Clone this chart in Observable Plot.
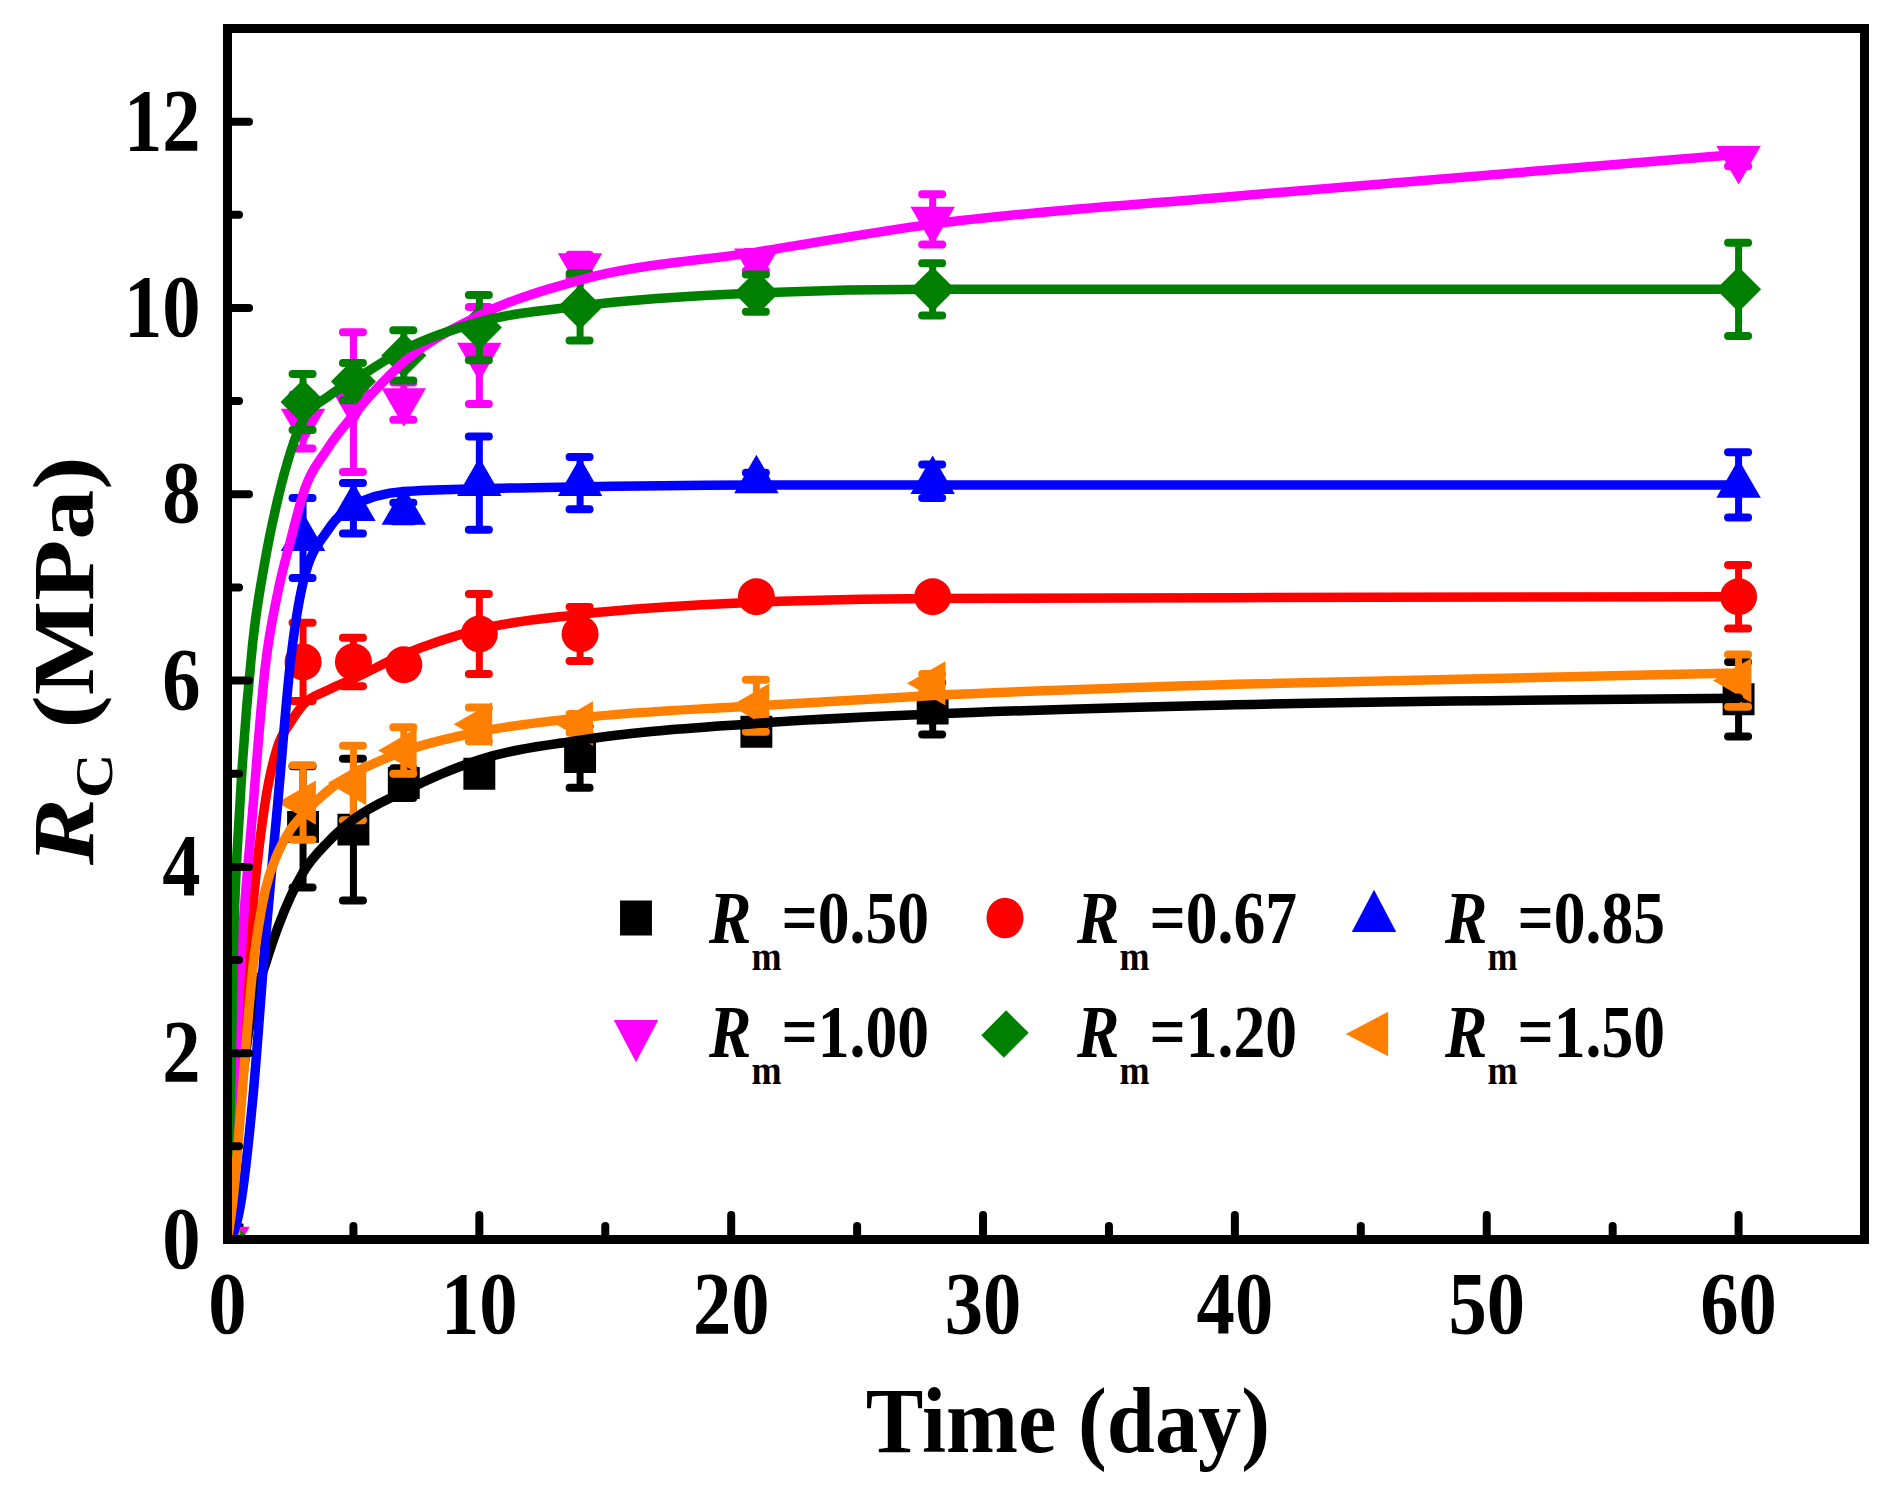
<!DOCTYPE html>
<html>
<head>
<meta charset="utf-8">
<script src="https://cdn.jsdelivr.net/npm/d3@7"></script>
<script src="https://cdn.jsdelivr.net/npm/@observablehq/plot@0.6"></script>
<style>
  body { margin: 0; background: #fff; }
  #chart { width: 1892px; height: 1500px; }
</style>
</head>
<body>
<div id="chart"></div>
<script>
// curing time (day) of the measured points
const days = [0, 3, 5, 7, 10, 14, 21, 28, 60];

// compressive strength R_C (MPa) and error bars, one pair per Rm
const rm050 = [0, 4.43, 4.40, 4.90, 5.00, 5.18, 5.45, 5.70, 5.80];
const rm050Err = [0, 0.65, 0.76, 0.16, 0.10, 0.33, 0.10, 0.28, 0.40];
const rm067 = [0, 6.20, 6.20, 6.17, 6.50, 6.50, 6.90, 6.90, 6.90];
const rm067Err = [0, 0.42, 0.26, 0.10, 0.43, 0.29, 0.10, 0.10, 0.34];
const rm085 = [0, 7.53, 7.85, 7.81, 8.12, 8.12, 8.15, 8.14, 8.10];
const rm085Err = [0, 0.43, 0.27, 0.10, 0.50, 0.28, 0.08, 0.18, 0.35];
const rm100 = [0, 8.78, 8.99, 9.00, 9.49, 10.45, 10.50, 10.95, 11.60];
const rm100Err = [0, 0.29, 0.75, 0.20, 0.52, 0.12, 0.10, 0.27, 0.08];
const rm120 = [0, 8.99, 9.21, 9.49, 9.79, 10.01, 10.16, 10.20, 10.20];
const rm120Err = [0, 0.30, 0.20, 0.27, 0.35, 0.36, 0.20, 0.28, 0.50];
const rm150 = [0, 4.69, 4.90, 5.25, 5.53, 5.54, 5.73, 5.97, 6.00];
const rm150Err = [0, 0.40, 0.40, 0.25, 0.18, 0.10, 0.28, 0.10, 0.28];

// fitted curves at these days
const fitDays = [0, 0.25, 0.5, 1, 1.5, 2, 2.5, 3, 4, 5, 7, 10, 14, 21, 28, 40, 60];
const fit050 = [0, 0.85, 1.5, 2.5, 2.95, 3.35, 3.68, 3.94, 4.27, 4.51, 4.81, 5.15, 5.36, 5.54, 5.64, 5.74, 5.81];
const fit067 = [0, 0.8, 1.7, 3.55, 4.7, 5.3, 5.55, 5.74, 5.9, 6.02, 6.28, 6.55, 6.71, 6.84, 6.88, 6.89, 6.9];
const fit085 = [0, 0.08, 0.35, 1.5, 3.2, 4.7, 6.2, 7.05, 7.62, 7.88, 8.03, 8.06, 8.08, 8.1, 8.1, 8.1, 8.1];
const fit100 = [0, 1.45, 2.85, 4.6, 6.15, 6.95, 7.5, 8.0, 8.5, 8.85, 9.42, 9.92, 10.3, 10.6, 10.9, 11.2, 11.65];
const fit120 = [0, 3.3, 4.7, 6.4, 7.3, 7.95, 8.45, 8.8, 9.05, 9.22, 9.55, 9.85, 10.02, 10.16, 10.2, 10.2, 10.2];
const fit150 = [0, 0.5, 1.3, 2.9, 3.75, 4.15, 4.4, 4.56, 4.82, 5.0, 5.24, 5.45, 5.6, 5.73, 5.84, 5.96, 6.08];

const rmLabels = ["0.50", "0.67", "0.85", "1.00", "1.20", "1.50"];
const xMajor = [0, 10, 20, 30, 40, 50, 60];
const xMinor = [5, 15, 25, 35, 45, 55];
const yMajor = [0, 2, 4, 6, 8, 10, 12];
const yMinor = [1, 3, 5, 7, 9, 11];

// styles
const colors = ["#000000", "#ff0000", "#0000ff", "#ff00ff", "#008000", "#ff8000"];
const symbols = ["square", "circle", "triangle", "triangle", "square", "triangle"];
const rotations = [0, 0, 0, 180, 45, -90];
const radii = [18, 18.5, 16.5, 16.5, 18, 16.5];
const d3Symbols = { square: d3.symbolSquare, circle: d3.symbolCircle, triangle: d3.symbolTriangle };

const W = 1892, H = 1500;
const M = { top: 28, right: 28, bottom: 261, left: 227 };
const plotW = W - M.left - M.right;
const plotH = H - M.top - M.bottom;
const serif = "'Liberation Serif', 'Times New Roman', serif";

const values = [rm050, rm067, rm085, rm100, rm120, rm150];
const errors = [rm050Err, rm067Err, rm085Err, rm100Err, rm120Err, rm150Err];
const fits = [fit050, fit067, fit085, fit100, fit120, fit150];

const pointMarks = [];
const fitMarks = [];
rmLabels.forEach((label, i) => {
  const rows = days.map((t, j) => ({ t, v: values[i][j], e: errors[i][j] }));
  const withErr = rows.filter((d) => d.e > 0);
  const color = colors[i];
  pointMarks.push(
    Plot.ruleX(withErr, { x: "t", y1: (d) => d.v - d.e, y2: (d) => d.v + d.e, stroke: color, strokeWidth: 7 }),
    Plot.ruleY(withErr, { x1: "t", x2: "t", y: (d) => d.v + d.e, insetLeft: -10, insetRight: -10, stroke: color, strokeWidth: 8, strokeLinecap: "round" }),
    Plot.ruleY(withErr, { x1: "t", x2: "t", y: (d) => d.v - d.e, insetLeft: -10, insetRight: -10, stroke: color, strokeWidth: 8, strokeLinecap: "round" }),
    Plot.dot(rows, { x: "t", y: "v", symbol: symbols[i], r: radii[i], rotate: rotations[i], fill: color, stroke: "none", clip: true })
  );
  const fitRows = fitDays.map((t, j) => ({ t, v: fits[i][j] }));
  fitMarks.push(Plot.line(fitRows, { x: "t", y: "v", stroke: color, strokeWidth: 9.5, curve: "monotone-x", clip: true }));
});

const fig = Plot.plot({
  width: W,
  height: H,
  marginTop: M.top,
  marginRight: M.right,
  marginBottom: M.bottom,
  marginLeft: M.left,
  x: { domain: [0, 65] },
  y: { domain: [0, 13] },
  style: { fontFamily: serif, fontSize: "88px", fontWeight: "bold", background: "#fff", color: "#000" },
  marks: [
    ...pointMarks,
    ...fitMarks,
    // inward ticks on bottom and left
    Plot.ruleX(xMajor, { x: (d) => d, insetTop: plotH - 24, stroke: "#000", strokeWidth: 8, strokeLinecap: "round" }),
    Plot.ruleX(xMinor, { x: (d) => d, insetTop: plotH - 13, stroke: "#000", strokeWidth: 8, strokeLinecap: "round" }),
    Plot.ruleY(yMajor, { y: (d) => d, insetRight: plotW - 22, stroke: "#000", strokeWidth: 8, strokeLinecap: "round" }),
    Plot.ruleY(yMinor, { y: (d) => d, insetRight: plotW - 12, stroke: "#000", strokeWidth: 8, strokeLinecap: "round" }),
    Plot.axisX({ ticks: xMajor, tickSize: 0, tickPadding: 31, label: null, tickFormat: (d) => String(d) }),
    Plot.axisY({ ticks: yMajor, tickSize: 0, tickPadding: 27, label: null, tickFormat: (d) => String(d) }),
    Plot.frame({ stroke: "#000", strokeWidth: 9 })
  ]
});

document.getElementById("chart").append(fig);

const svg = d3.select(fig);
// the source font is a narrow Times; squeeze tick labels sideways
svg.selectAll('g[aria-label="x-axis tick label"] text, g[aria-label="y-axis tick label"] text').each(function () {
  this.setAttribute("transform", (this.getAttribute("transform") || "") + " scale(0.87,1)");
});

// axis titles
svg.append("text")
  .attr("transform", "translate(1068,1452) scale(0.92,1)")
  .attr("text-anchor", "middle")
  .attr("font-size", 94)
  .text("Time (day)");

const yt = svg.append("text")
  .attr("transform", "translate(93,865) rotate(-90) scale(1,0.86)")
  .attr("text-anchor", "start")
  .attr("font-size", 100);
yt.append("tspan").attr("font-style", "italic").text("R");
yt.append("tspan").attr("font-size", 62).attr("dy", 22).text("C");
yt.append("tspan").attr("dy", -22).text(" (MPa)");

// legend, 3 columns x 2 rows inside the frame
const legX = [636, 1005, 1374];
const legTextX = [709, 1077, 1445];
const legY = [918, 1034];
const legBase = [943, 1057];
const leg = svg.append("g").attr("aria-label", "legend").attr("text-anchor", "start");
rmLabels.forEach((label, i) => {
  const col = i % 3, row = Math.floor(i / 3);
  leg.append("path")
    .attr("d", d3.symbol(d3Symbols[symbols[i]], Math.PI * radii[i] * radii[i])())
    .attr("transform", `translate(${legX[col]},${legY[row]}) rotate(${rotations[i]}) scale(1,1.1)`)
    .attr("fill", colors[i]);
  const t = leg.append("text")
    .attr("transform", `translate(${legTextX[col]},${legBase[row]}) scale(0.86,1)`)
    .attr("font-size", 74);
  t.append("tspan").attr("font-style", "italic").text("R");
  t.append("tspan").attr("font-size", 42).attr("dy", 27).text("m");
  t.append("tspan").attr("dy", -27).text("=" + label);
});
</script>
</body>
</html>
